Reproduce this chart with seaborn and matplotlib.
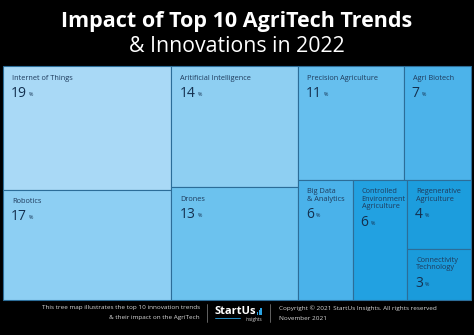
import matplotlib
matplotlib.use("Agg")
import matplotlib.pyplot as plt
from matplotlib.patches import Rectangle
import seaborn as sns

# Trend shares (percent of impact)
trends = ["Internet of Things", "Robotics", "Aritificial Intelligence", "Drones",
          "Precision Agriculture", "Agri Biotech", "Big Data\n& Analytics",
          "Controlled\nEnvironment\nAgriculture", "Regenerative\nAgriculture",
          "Connectivity\nTechnology"]
shares = [19, 17, 14, 13, 11, 7, 6, 6, 4, 3]
tile_colors = ["#a9d9f6", "#8dcff3", "#8ecff2", "#6cc2ee", "#66bfee",
               "#4cb3ea", "#4ab2ea", "#22a1e1", "#1c9ddd", "#1a9bdb"]

title_line1 = "Impact of Top 10 AgriTech Trends"
title_line2 = "& Innovations in 2022"
footer_left = ["This tree map illustrates the top 10 innovation trends",
               "& their impact on the AgriTech"]
footer_right = ["Copyright \u00a9 2021 StartUs Insights. All rights reserved",
                "November 2021"]

sns.set_theme(style="white")
plt.rcParams["font.family"] = ["Open Sans", "DejaVu Sans"]

W, H = 474, 335
fig = plt.figure(figsize=(W / 100, H / 100), dpi=100, facecolor="black")
ax = fig.add_axes([0, 0, 1, 1])
ax.set_facecolor("black")
ax.set_xlim(0, W)
ax.set_ylim(H, 0)
ax.axis("off")

# Nested layout: columns of tiles, the last column split into rows
layout = [
    ("col", [0, 1]),
    ("col", [2, 3]),
    ("rows", [[4, 5], [6, 7, ("col", [8, 9])]]),
]


def weight(node):
    if isinstance(node, int):
        return shares[node]
    kind, kids = node
    if kind == "rows":
        return sum(weight(k) for row in kids for k in row)
    return sum(weight(k) for k in kids)


rects = {}


def place(node, x, y, w, h):
    if isinstance(node, int):
        rects[node] = (x, y, w, h)
        return
    kind, kids = node
    total = weight(node)
    if kind == "rows":
        cy = y
        for row in kids:
            rh = h * sum(weight(k) for k in row) / total
            place(("row", row), x, cy, w, rh)
            cy += rh
    elif kind == "col":
        cy = y
        for k in kids:
            kh = h * weight(k) / total
            place(k, x, cy, w, kh)
            cy += kh
    else:  # row
        cx = x
        for k in kids:
            kw = w * weight(k) / total
            place(k, cx, y, kw, h)
            cx += kw


X0, Y0, TW, TH = 3, 66, 468, 234
total_all = sum(shares)
cx = X0
for node in layout:
    cw = TW * weight(node) / total_all
    place(node, cx, Y0, cw, TH)
    cx += cw

fig.canvas.draw()
renderer = fig.canvas.get_renderer()
inv = ax.transData.inverted()

for i, (x, y, w, h) in rects.items():
    ax.add_patch(Rectangle((x, y), w, h, facecolor=tile_colors[i],
                           edgecolor="#2c6d98", linewidth=0.8))
    nlines = trends[i].count("\n") + 1
    ax.text(x + 9, y + 8.5, trends[i], fontsize=5.3, color="#1f3b5c",
            ha="left", va="top", linespacing=1.05)
    ny = y + 11 + nlines * 7.6 + 1
    num = ax.text(x + 8, ny, f"{shares[i]}", fontsize=10, color="#14304f",
                  ha="left", va="top")
    bb = num.get_window_extent(renderer)
    right = inv.transform((bb.x1, bb.y0))[0]
    ax.text(right + 2, ny + 11, "%", fontsize=3.8, color="#14304f",
            ha="left", va="bottom")

# Title
ax.text(W / 2, 21, title_line1, color="white", fontsize=15.5,
        fontweight="bold", ha="center", va="center")
ax.text(W / 2, 46, title_line2, color="white", fontsize=15.3,
        ha="center", va="center")

# Footer
for k, line in enumerate(footer_left):
    ax.text(200, 308 + k * 10, line, color="#d8d8d8", fontsize=4.6,
            ha="right", va="center")
for k, line in enumerate(footer_right):
    ax.text(279, 308 + k * 10, line, color="#d8d8d8", fontsize=4.6,
            ha="left", va="center")
ax.plot([207, 207], [304, 322], color="#888888", lw=0.5)
ax.plot([270, 270], [304, 322], color="#888888", lw=0.5)
ax.text(215, 311, "StartUs", color="white", fontsize=8, fontweight="bold",
        ha="left", va="center")
for j, bh in enumerate([3, 5, 7]):
    ax.add_patch(Rectangle((257 + j * 1.7, 315 - bh), 1.2, bh,
                           facecolor="#2aa3e3", edgecolor="none"))
ax.plot([215, 240], [317.5, 317.5], color="#2aa3e3", lw=0.6)
ax.text(262, 319, "insights", color="#d8d8d8", fontsize=3.3,
        ha="right", va="center")

fig.savefig("out.png", dpi=100, facecolor="black")
